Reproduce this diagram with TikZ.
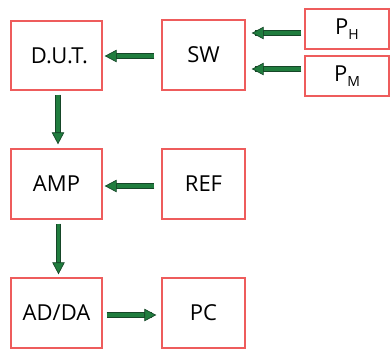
\documentclass[tikz,border=0pt]{standalone}
\usepackage{fontspec}
\setmainfont{Open Sans}
\usetikzlibrary{arrows.meta}
\definecolor{boxred}{RGB}{238,92,92}
\definecolor{arrgreen}{RGB}{32,125,62}
\definecolor{arrdark}{RGB}{22,70,40}
\tikzset{
  blk/.style={draw=boxred, line width=1.4pt, minimum width=#1, inner sep=0pt, font=\fontsize{22}{24}\selectfont, text=black},
  blk/.default=91pt,
  barrow/.style={line width=3.8pt, arrgreen,
    preaction={draw=arrdark, line width=5.2pt, -, shorten >=9pt},
    -{Triangle[length=12pt 0 0, width=12.5pt 0 0, fill=arrgreen, color=arrdark, line width=0.7pt]}},
}
\newcommand{\subtxt}[1]{\raisebox{-0.2em}{\fontsize{14}{14}\selectfont #1}}
\begin{document}
\begin{tikzpicture}[x=1pt,y=-1pt]
\useasboundingbox (0,0) rectangle (390,349);
\node[blk=91pt, minimum height=69pt] (dut) at (56.5,55.5) {\hspace{6pt}D.U.T.};
\node[blk=83pt, minimum height=70pt] (sw) at (203.5,55) {SW};
\node[blk=84pt, minimum height=40pt] (ph) at (347,29) {P\subtxt{H}};
\node[blk=84pt, minimum height=40pt] (pm) at (347,76) {P\subtxt{M}};
\node[blk=91pt, minimum height=70pt] (amp) at (56.5,184) {AMP};
\node[blk=83pt, minimum height=70pt] (ref) at (203.5,184) {REF};
\node[blk=91pt, minimum height=70pt] (adda) at (56.5,313) {AD/DA};
\node[blk=83pt, minimum height=70pt] (pc) at (203.5,313) {PC};
\coordinate (swa) at ([yshift=22pt]sw.east);
\coordinate (swb) at ([yshift=-14pt]sw.east);
\draw[barrow, shorten <=3pt, shorten >=6pt] (ph.west |- swa) -- (swa);
\draw[barrow, shorten <=3pt, shorten >=6pt] (pm.west |- swb) -- (swb);
\draw[barrow, shorten <=7pt, shorten >=2pt] ([yshift=-1pt]sw.west) -- ([yshift=-1pt]sw.west -| dut.east);
\draw[barrow, shorten <=4pt, shorten >=4pt] ([xshift=1.5pt]dut.south) -- ([xshift=1.5pt]amp.north);
\draw[barrow, shorten <=7pt, shorten >=2pt] ([yshift=-2pt]ref.west) -- ([yshift=-2pt]amp.east);
\draw[barrow, shorten <=4pt, shorten >=3pt] ([xshift=2pt]amp.south) -- ([xshift=2pt]adda.north);
\draw[barrow, shorten <=4pt, shorten >=5pt] ([yshift=-2pt]adda.east) -- ([yshift=-2pt]pc.west);
\end{tikzpicture}
\end{document}
